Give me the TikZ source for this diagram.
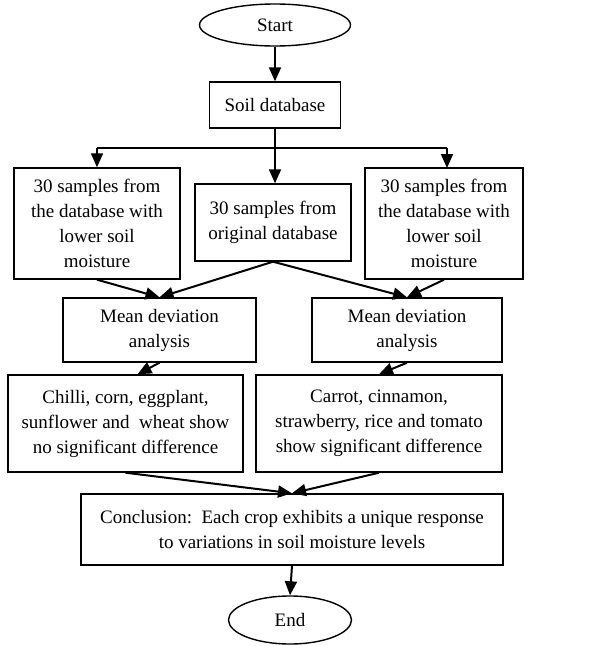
\documentclass[tikz,border=0pt]{standalone}
\usepackage{fontspec}
\setmainfont{Liberation Serif}
\usetikzlibrary{shapes.geometric, arrows.meta, positioning, calc}

\begin{document}
\begin{tikzpicture}[
    x=1pt, y=-1pt,
    block/.style={rectangle, draw, line width=1.4pt, align=center, inner sep=2pt,
                  font=\fontsize{19}{25}\selectfont},
    terminal/.style={ellipse, draw, line width=1.4pt, inner sep=0pt,
                     font=\fontsize{19}{25}\selectfont},
    arrow/.style={-{Triangle[length=14pt, width=12pt]}, line width=2pt},
    link/.style={line width=2pt},
]
\useasboundingbox (0,0) rectangle (592,646);

\node[terminal, minimum width=151pt, minimum height=42pt] (start) at (275,25) {Start};
\node[block, minimum width=131pt, minimum height=46pt] (soil) at (275,105) {Soil database};

\node[block, minimum width=166pt, minimum height=111pt] (lowA) at (97,223.5)
    {30 samples from\\the database with\\lower soil\\moisture};
\node[block, minimum width=156pt, minimum height=77pt] (orig) at (273,222.5)
    {30 samples from\\original database};
\node[block, minimum width=158pt, minimum height=111pt] (lowB) at (444,223.5)
    {30 samples from\\the database with\\lower soil\\moisture};

\node[block, minimum width=193pt, minimum height=64pt] (mdA) at (159.5,330)
    {Mean deviation\\analysis};
\node[block, minimum width=190pt, minimum height=64pt] (mdB) at (407,330)
    {Mean deviation\\analysis};

\node[block, minimum width=235pt, minimum height=97pt] (nosig) at (125.5,423.5)
    {Chilli, corn, eggplant,\\sunflower and\ \ wheat show\\no significant difference};
\node[block, minimum width=246pt, minimum height=97pt] (sig) at (379,423.5)
    {Carrot, cinnamon,\\strawberry, rice and tomato\\show significant difference};

\node[block, minimum width=422pt, minimum height=71pt] (concl) at (292,529.5)
    {Conclusion:\ \ Each crop exhibits a unique response\\to variations in soil moisture levels};
\node[terminal, minimum width=123pt, minimum height=48pt] (end) at (290,620) {End};

% fork below the database
\coordinate (fork) at (275,148);

\draw[arrow] (start) -- (soil);
\draw[link] (soil) -- (fork);
\draw[link] (fork) -- (97,148);
\draw[link] (fork) -- (447,148);
\draw[arrow] (97,148) -- (lowA.north);
\draw[arrow] (447,148) -- (447,168);
\draw[arrow] (fork) -- (fork |- orig.north);

\draw[arrow] (lowA.south) -- (mdA.north);
\draw[arrow] (orig.south) -- (mdA.north);
\draw[arrow] (orig.south) -- (mdB.north);
\draw[arrow] (lowB.south) -- (mdB.north);

\draw[arrow] (mdA.south) -- ([xshift=12pt]nosig.north);
\draw[arrow] (mdB.south) -- (sig.north);

\draw[arrow] (nosig.south) -- (concl.north);
\draw[arrow] (sig.south) -- (concl.north);
\draw[arrow] (concl.south) -- (end.north);

\end{tikzpicture}
\end{document}
